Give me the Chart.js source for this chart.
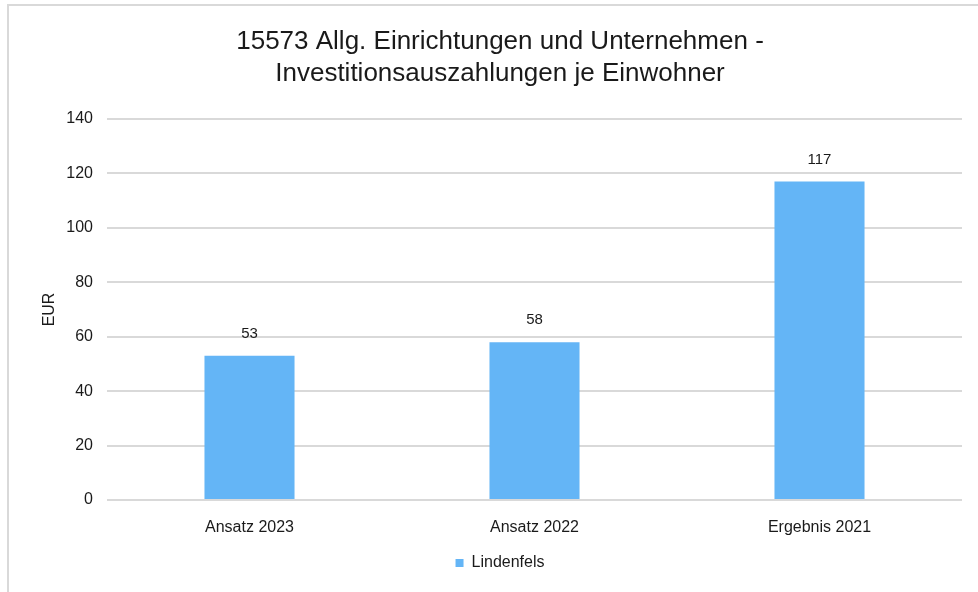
<!DOCTYPE html>
<html lang="de">
<head>
    <meta charset="UTF-8">
    <title>Investitionsauszahlungen je Einwohner</title>
    <script src="https://cdn.jsdelivr.net/npm/chart.js"></script>
    <style>
        body {
            margin: 0;
            background: #fff;
            overflow: hidden;
            font-family: "Liberation Sans", Arial, sans-serif;
        }
        #frame {
            position: absolute;
            left: 7px;
            top: 4px;
            width: 990px;
            height: 600px;
            border: 2px solid #d9d9d9;
            background: #fff;
        }
        #wrap {
            position: absolute;
            left: 0;
            top: 0;
            width: 969px;
            height: 586px;
        }
    </style>
</head>
<body>

<div id="frame">
    <div id="wrap"><canvas id="myChart"></canvas></div>
</div>

<script>
const categories = ['Ansatz 2023', 'Ansatz 2022', 'Ergebnis 2021'];
const seriesName = 'Lindenfels';
const seriesValues = [53, 58, 117];
const titleLines = ['15573 Allg. Einrichtungen und Unternehmen -', 'Investitionsauszahlungen je Einwohner'];
const yTitle = 'EUR';

const textColor = '#1a1a1a';
const fontFamily = '"Liberation Sans", Arial, sans-serif';

// writes the value above each bar
const valueLabels = {
    id: 'valueLabels',
    afterDatasetsDraw(chart) {
        const ctx = chart.ctx;
        ctx.save();
        ctx.font = '15px ' + fontFamily;
        ctx.fillStyle = textColor;
        ctx.textAlign = 'center';
        ctx.textBaseline = 'middle';
        chart.getDatasetMeta(0).data.forEach((bar, i) => {
            ctx.fillText(String(seriesValues[i]), bar.x, bar.y - 22);
        });
        ctx.restore();
    }
};

const ctx = document.getElementById('myChart').getContext('2d');
new Chart(ctx, {
    type: 'bar',
    data: {
        labels: categories,
        datasets: [{
            label: seriesName,
            data: seriesValues,
            backgroundColor: '#64b5f6',
            categoryPercentage: 1,
            barPercentage: 0.316
        }]
    },
    options: {
        responsive: true,
        maintainAspectRatio: false,
        animation: false,
        layout: { padding: { left: 29, right: 16, top: 0, bottom: 11 } },
        scales: {
            x: {
                grid: { display: false },
                border: { display: false },
                ticks: { color: textColor, font: { size: 16, family: fontFamily }, padding: 10 },
                afterFit(scale) { scale.height = 45; }
            },
            y: {
                min: 0,
                max: 140,
                ticks: { stepSize: 20, color: textColor, font: { size: 16, family: fontFamily }, padding: 14 },
                grid: { color: '#d9d9d9', lineWidth: 2, drawTicks: false },
                border: { display: false },
                title: {
                    display: true,
                    text: yTitle,
                    color: textColor,
                    font: { size: 16, family: fontFamily },
                    padding: { top: 2, bottom: 0 }
                },
                afterFit(scale) { scale.width = 69; }
            }
        },
        plugins: {
            title: {
                display: true,
                text: titleLines,
                color: textColor,
                font: { size: 26, family: fontFamily, weight: 'normal', lineHeight: 1.23 },
                padding: { top: 20, bottom: 29 }
            },
            legend: {
                position: 'bottom',
                labels: {
                    color: textColor,
                    font: { size: 16, family: fontFamily },
                    boxWidth: 8,
                    boxHeight: 8,
                    padding: 10
                }
            },
            tooltip: { enabled: false }
        }
    },
    plugins: [valueLabels]
});
</script>

</body>
</html>
